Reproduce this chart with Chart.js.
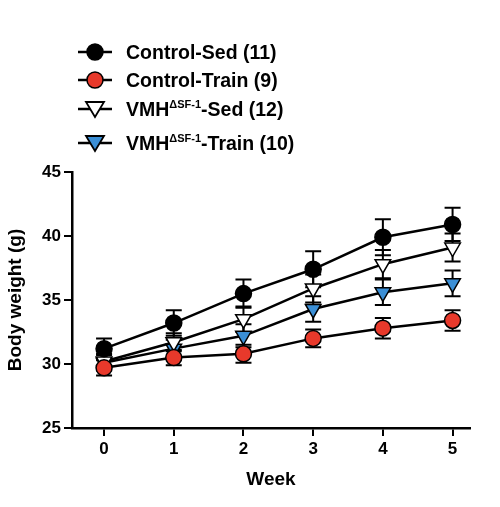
<!DOCTYPE html><html><head><script src="https://cdn.jsdelivr.net/npm/chart.js"></script>
<style>body{margin:0;background:#fff;font-family:"Liberation Sans",Arial,sans-serif}
#wrap{position:relative;width:500px;height:507px}
.row{position:absolute;left:78px;height:28px;display:flex;align-items:center;font-weight:bold;font-size:19.5px}
.row svg{margin-right:14px}
sup{font-size:11px;vertical-align:8px}</style></head><body><div id="wrap"><canvas id="c" width="500" height="507"></canvas></div>
<script>
const weeks=[0,1,2,3,4,5];
const ctrlSed=[31.2,33.2,35.5,37.4,39.9,40.9], ctrlSedErr=[0.8,1.0,1.1,1.4,1.4,1.3];
const ctrlTrain=[29.7,30.5,30.8,32.0,32.8,33.4], ctrlTrainErr=[0.6,0.6,0.7,0.7,0.8,0.8];
const vmhSed=[30.2,31.7,33.5,35.9,37.8,39.1], vmhSedErr=[0.6,0.7,1.0,1.1,1.1,1.1];
const vmhTrain=[30.1,31.2,32.2,34.3,35.6,36.3], vmhTrainErr=[0.6,0.7,0.9,1.0,1.0,1.0];
const yTicks=[25,30,35,40,45];
const series=[
 {label:'Control-Sed (11)',d:ctrlSed,e:ctrlSedErr,fill:'#000',style:'circle',rot:0},
 {label:'Control-Train (9)',d:ctrlTrain,e:ctrlTrainErr,fill:'#e8392b',style:'circle',rot:0},
 {label:'VMH<sup>ΔSF-1</sup>-Sed (12)',d:vmhSed,e:vmhSedErr,fill:'#fff',style:'triangle',rot:180},
 {label:'VMH<sup>ΔSF-1</sup>-Train (10)',d:vmhTrain,e:vmhTrainErr,fill:'#3b8fd6',style:'triangle',rot:180}];
const wrap=document.getElementById('wrap');
[38,66,95,129].forEach((y,i)=>{const s=series[i];const r=document.createElement('div');r.className='row';r.style.top=y+'px';
 const shape=s.style==='circle'?`<circle cx="17" cy="14" r="8" fill="${s.fill}" stroke="#000" stroke-width="1.5"/>`:`<polygon points="8,7 26,7 17,22" fill="${s.fill}" stroke="#000" stroke-width="1.8"/>`;
 r.innerHTML=`<svg width="34" height="28"><line x1="0" y1="14" x2="34" y2="14" stroke="#000" stroke-width="2.5"/>${shape}</svg><span>${s.label}</span>`;wrap.appendChild(r);});
const errPlugin={id:'err',beforeDatasetsDraw(ch){const c=ch.ctx,x=ch.scales.x,y=ch.scales.y;c.save();c.strokeStyle='#000';c.lineWidth=2;
 series.forEach(s=>{s.d.forEach((v,i)=>{const px=x.getPixelForValue(weeks[i]);const t=y.getPixelForValue(v+s.e[i]),b=y.getPixelForValue(v-s.e[i]);
 c.beginPath();c.moveTo(px,t);c.lineTo(px,b);c.moveTo(px-8,t);c.lineTo(px+8,t);c.moveTo(px-8,b);c.lineTo(px+8,b);c.stroke();});});c.restore();}};
new Chart(document.getElementById('c'),{type:'line',plugins:[errPlugin],
 data:{datasets:series.map(s=>({data:s.d.map((v,i)=>({x:weeks[i],y:v})),borderColor:'#000',borderWidth:2.5,backgroundColor:s.fill,pointBackgroundColor:s.fill,pointBorderColor:'#000',pointBorderWidth:1.5,pointStyle:s.style,pointRotation:s.rot,pointRadius:s.style==='circle'?8:9}))},
 options:{responsive:false,animation:false,plugins:{legend:{display:false},tooltip:{enabled:false}},
  layout:{padding:{top:172,right:30,left:0,bottom:12}},
  scales:{x:{type:'linear',min:-0.46,max:5.25,afterBuildTicks(s){s.ticks=weeks.map(v=>({value:v}));},afterFit(s){s.height=67;},
    border:{color:'#000',width:2.5},grid:{drawOnChartArea:false,color:'#000',lineWidth:2,tickLength:8},
    ticks:{color:'#000',font:{size:17,weight:'bold',family:'Liberation Sans'}},
    title:{display:true,text:'Week',color:'#000',font:{size:19,weight:'bold',family:'Liberation Sans'},padding:{top:4}}},
   y:{min:25,max:45,afterBuildTicks(s){s.ticks=yTicks.map(v=>({value:v}));},afterFit(s){s.width=72;},
    border:{color:'#000',width:2.5},grid:{drawOnChartArea:false,color:'#000',lineWidth:2,tickLength:8},
    ticks:{color:'#000',font:{size:17,weight:'bold',family:'Liberation Sans'}},
    title:{display:true,text:'Body weight (g)',color:'#000',font:{size:19,weight:'bold',family:'Liberation Sans'},padding:{bottom:0}}}}}});
</script></body></html>
